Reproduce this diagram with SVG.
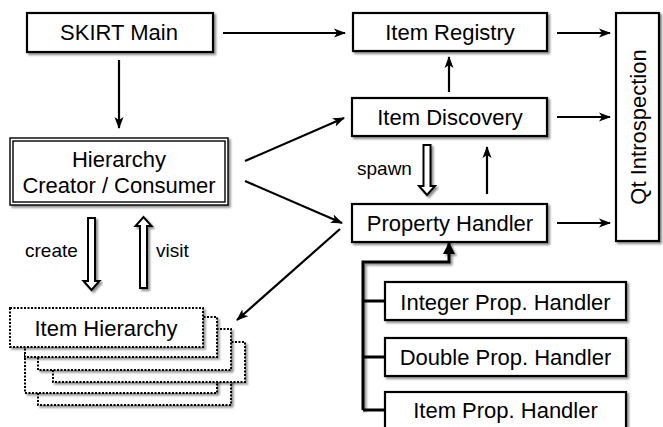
<svg xmlns="http://www.w3.org/2000/svg" width="663" height="427" viewBox="0 0 663 427">
<defs>
<filter id="sh" x="-10%" y="-10%" width="130%" height="140%">
<feDropShadow dx="2" dy="2" stdDeviation="1.3" flood-color="#000" flood-opacity="0.45"/>
</filter>
<marker id="ah" viewBox="0 0 12 10" refX="11" refY="5" markerWidth="12" markerHeight="10" markerUnits="userSpaceOnUse" orient="auto">
<path d="M0,0.5 L12,5 L0,9.5 L3,5 Z" fill="#000"/>
</marker>
<marker id="tri" viewBox="0 0 12 12" refX="11" refY="6" markerWidth="12" markerHeight="12" markerUnits="userSpaceOnUse" orient="auto">
<path d="M0,0 L12,6 L0,12 Z" fill="#000"/>
</marker>
</defs>
<style>
.box{fill:#fff;stroke:#000;stroke-width:2.2;filter:url(#sh)}
.dot{fill:#fff;stroke:#000;stroke-width:2;stroke-dasharray:2 1.5;filter:url(#sh)}
.t{font-family:"Liberation Sans",Arial,sans-serif;font-size:22px;fill:#000;text-anchor:middle}
.l{font-family:"Liberation Sans",Arial,sans-serif;font-size:19px;fill:#000}
.c{fill:none;stroke:#000;stroke-width:2.2;marker-end:url(#ah)}
.h{fill:#fff;stroke:#000;stroke-width:2;filter:url(#sh)}
</style>
<rect width="663" height="427" fill="#fff"/>

<g id="skirt-main">
<rect class="box" x="27" y="13" width="186" height="39"/>
<text class="t" x="119" y="40">SKIRT Main</text>
</g>
<g id="item-registry">
<rect class="box" x="353" y="13" width="194" height="38"/>
<text class="t" x="450" y="40">Item Registry</text>
</g>
<g id="item-discovery">
<rect class="box" x="352" y="98" width="195" height="38"/>
<text class="t" x="450" y="125">Item Discovery</text>
</g>
<g id="property-handler">
<rect class="box" x="352" y="204" width="195" height="38"/>
<text class="t" x="450" y="231">Property Handler</text>
</g>
<g id="qt-introspection">
<rect class="box" x="616" y="13" width="43" height="228"/>
<text class="t" transform="translate(646,127) rotate(-90)">Qt Introspection</text>
</g>
<g id="hierarchy">
<rect x="10" y="138" width="218" height="67" fill="#fff" stroke="#000" stroke-width="1.4" filter="url(#sh)"/>
<rect x="13" y="141" width="212" height="61" fill="#fff" stroke="#000" stroke-width="1.4"/>
<text class="t" x="119" y="167">Hierarchy</text>
<text class="t" x="119" y="193">Creator / Consumer</text>
</g>
<g id="item-hierarchy">
<rect class="dot" x="38" y="367" width="193" height="38"/>
<rect class="dot" x="25" y="355" width="192" height="38"/>
<rect class="dot" x="53" y="342" width="192" height="40"/>
<rect class="dot" x="38" y="329" width="193" height="41"/>
<rect class="dot" x="25" y="317" width="192" height="40"/>
<rect class="dot" x="10" y="308" width="193" height="39"/>
<text class="t" x="106" y="336">Item Hierarchy</text>
</g>
<g id="integer-handler">
<rect class="box" x="385" y="282" width="241" height="38"/>
<text class="t" x="505.5" y="310">Integer Prop. Handler</text>
</g>
<g id="double-handler">
<rect class="box" x="385" y="338" width="241" height="38"/>
<text class="t" x="505.5" y="365">Double Prop. Handler</text>
</g>
<g id="item-handler">
<rect class="box" x="385" y="392" width="241" height="40"/>
<text class="t" x="505.5" y="418">Item Prop. Handler</text>
</g>

<g id="connectors">
<line class="c" x1="223" y1="33" x2="345" y2="33"/>
<line class="c" x1="119" y1="60" x2="119" y2="128"/>
<line class="c" x1="245" y1="161" x2="344" y2="118"/>
<line class="c" x1="245" y1="181" x2="342" y2="223"/>
<line class="c" x1="340" y1="229" x2="237" y2="320"/>
<line class="c" x1="557" y1="33" x2="610" y2="33"/>
<line class="c" x1="557" y1="117" x2="610" y2="117"/>
<line class="c" x1="557" y1="223" x2="610" y2="223"/>
<line class="c" x1="449" y1="92" x2="449" y2="57"/>
<line class="c" x1="487" y1="194" x2="487" y2="147"/>
<path d="M363,410 V262 H449 V243" fill="none" stroke="#000" stroke-width="3" marker-end="url(#tri)" filter="url(#sh)"/>
<path d="M363,301 H385 M363,357 H385 M363,410 H385" fill="none" stroke="#000" stroke-width="3"/>
<path class="h" d="M423.5,145 H430.5 V186 H435 L427,195 L419,186 H423.5 Z"/>
<path class="h" d="M88,218 H95 V281 H99.5 L91.5,290 L83.5,281 H88 Z"/>
<path class="h" d="M140,288 H147 V226 H151.5 L143.5,217 L135.5,226 H140 Z"/>
<text class="l" x="357" y="175">spawn</text>
<text class="l" x="25" y="257">create</text>
<text class="l" x="156" y="257">visit</text>
</g>
</svg>
